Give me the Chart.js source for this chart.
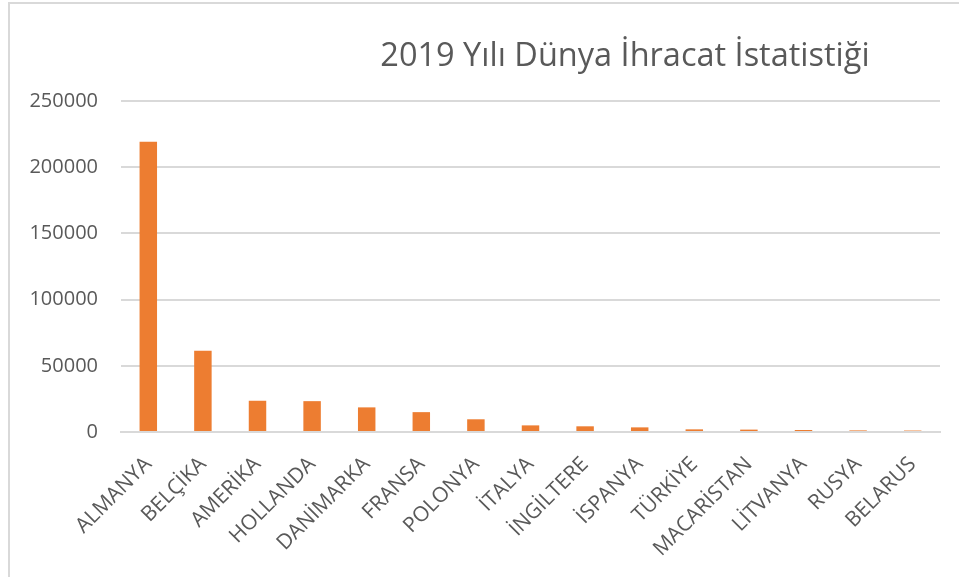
<!DOCTYPE html>
<html>
<head>
<meta charset="utf-8">
<script src="https://cdn.jsdelivr.net/npm/chart.js@4.4.1/dist/chart.umd.min.js"></script>
<style>
  html, body { margin: 0; padding: 0; background: #fff; }
  #wrap { position: relative; width: 959px; height: 577px; overflow: hidden; }
  #frame { position: absolute; left: 8px; top: 2px; width: 2000px; height: 2000px;
           border-left: 2px solid #d9d9d9; border-top: 2px solid #d9d9d9; }
  canvas { position: absolute; left: 0; top: 0; }
</style>
</head>
<body>
<div id="wrap">
  <div id="frame"></div>
  <canvas id="c" width="959" height="577"></canvas>
</div>
<script>
const chartTitle = "2019 Yılı Dünya İhracat İstatistiği";
const categories = ["ALMANYA", "BELÇİKA", "AMERİKA", "HOLLANDA", "DANİMARKA", "FRANSA", "POLONYA", "İTALYA", "İNGİLTERE", "İSPANYA", "TÜRKİYE", "MACARİSTAN", "LİTVANYA", "RUSYA", "BELARUS"];
const exportValues = [219200, 61400, 23600, 23300, 18600, 15000, 9600, 5000, 4300, 3500, 2000, 1800, 1500, 1200, 1100];
const yTicks = [0, 50000, 100000, 150000, 200000, 250000];

const FONT = "'Open Sans', 'DejaVu Sans', sans-serif";
const TEXT = "#595959";

const titlePlugin = {
  id: 'customTitle',
  afterDraw(chart) {
    const ctx = chart.ctx;
    ctx.save();
    ctx.fillStyle = TEXT;
    ctx.font = "32.5px " + FONT;
    ctx.textAlign = "center";
    ctx.textBaseline = "alphabetic";
    ctx.fillText(chartTitle, 625, 66);
    ctx.restore();
  }
};

new Chart(document.getElementById('c'), {
  type: 'bar',
  data: {
    labels: categories,
    datasets: [{
      data: exportValues,
      backgroundColor: '#ED7D31',
      borderWidth: 0,
      barPercentage: 0.32,
      categoryPercentage: 1.0
    }]
  },
  options: {
    responsive: false,
    animation: false,
    devicePixelRatio: 1,
    layout: { padding: { left: 0, right: 19, top: 101, bottom: 0 } },
    plugins: { legend: { display: false }, title: { display: false }, tooltip: { enabled: false } },
    scales: {
      x: {
        grid: { display: false, drawTicks: false },
        border: { display: true, color: '#d9d9d9', width: 2 },
        ticks: {
          color: TEXT, font: { family: FONT, size: 21 },
          maxRotation: 45, minRotation: 45, padding: 20, autoSkip: false
        },
        afterFit(scale) { scale.height = 145; }
      },
      y: {
        min: 0, max: 250000,
        afterBuildTicks(scale) { scale.ticks = yTicks.map(v => ({ value: v })); },
        grid: { color: '#d9d9d9', lineWidth: 2, drawTicks: false },
        border: { display: false },
        ticks: {
          color: TEXT, font: { family: FONT, size: 20 }, padding: 23,
          callback: v => String(v)
        },
        afterFit(scale) { scale.width = 121; }
      }
    }
  },
  plugins: [titlePlugin]
});
</script>
</body>
</html>
